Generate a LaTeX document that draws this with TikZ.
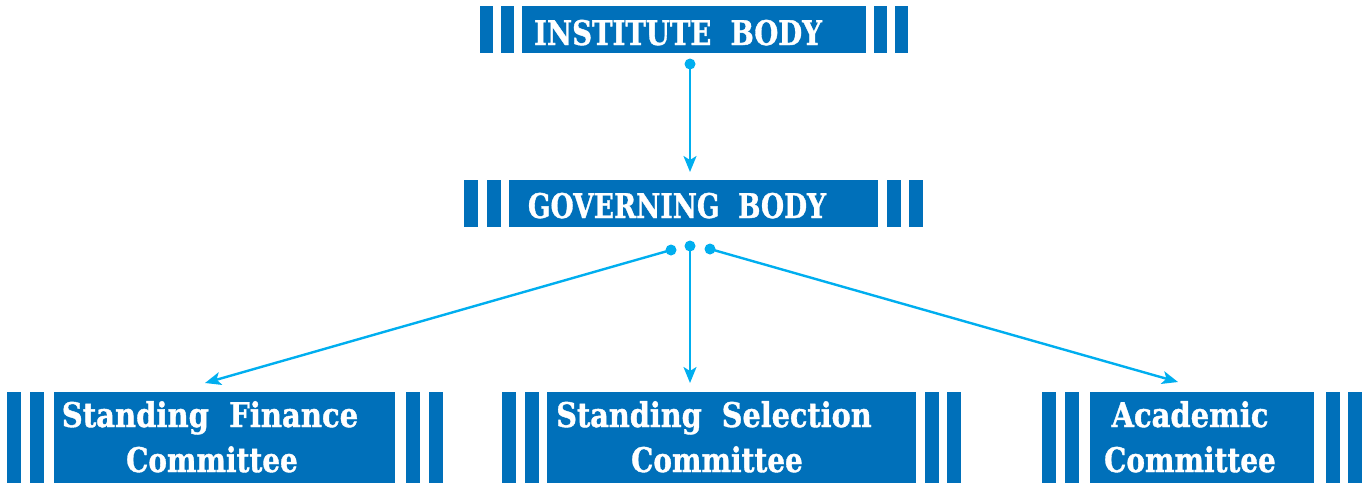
\documentclass[tikz,border=0pt]{standalone}
\usepackage{fontspec}
\setmainfont{DejaVu Serif}
\newfontfamily\heavyfont[FakeBold=1.2]{DejaVu Serif Bold}
\usetikzlibrary{arrows.meta}
\definecolor{boxblue}{RGB}{0,112,186}
\definecolor{linkblue}{RGB}{0,174,239}
\newcommand{\sqz}[2]{\scalebox{#1}[1]{#2}}
\tikzset{
  bar/.style={fill=boxblue, draw=none},
  mainbox/.style={fill=boxblue, draw=none, inner sep=0pt},
  lbl/.style={text=white, inner sep=0pt, anchor=base, font=\fontsize{34}{34}\heavyfont},
  link/.style={draw=linkblue, line width=2.4pt, -{Stealth[length=16pt,width=13pt,inset=4pt]}},
  dot/.style={circle, fill=linkblue, inner sep=0pt, minimum size=11pt},
}
\begin{document}
\begin{tikzpicture}[x=1pt,y=-1pt]
\useasboundingbox (0,0) rectangle (1367,483);
% Institute body
\fill[bar] (480,6) rectangle (493,53);
\fill[bar] (501,6) rectangle (514,53);
\node[mainbox, minimum width=344pt, minimum height=47pt] (inst) at (694,29.5) {};
\fill[bar] (874,6) rectangle (887,53);
\fill[bar] (895,6) rectangle (908,53);
\node[lbl] (instt) at (678,45) {\sqz{0.81}{INSTITUTE\ \ BODY}};
% Governing body
\fill[bar] (464,180) rectangle (478,227);
\fill[bar] (487,180) rectangle (501,227);
\node[mainbox, minimum width=369pt, minimum height=47pt] (gov) at (693.5,203.5) {};
\fill[bar] (887,180) rectangle (901,227);
\fill[bar] (909,180) rectangle (923,227);
\node[lbl] (govt) at (677,218) {\sqz{0.78}{GOVERNING\ \ BODY}};
% Standing finance
\fill[bar] (7,392) rectangle (21,483);
\fill[bar] (30,392) rectangle (44,483);
\node[mainbox, minimum width=341pt, minimum height=91pt] (fin) at (224.5,437.5) {};
\fill[bar] (406,392) rectangle (420,483);
\fill[bar] (429,392) rectangle (443,483);
\node[lbl] (fint1) at (210,427) {\sqz{0.855}{Standing\ \ Finance}};
\node[lbl] (fint2) at (212,472) {\sqz{0.82}{Committee}};
% Standing selection
\fill[bar] (502,392) rectangle (516,483);
\fill[bar] (525,392) rectangle (539,483);
\node[mainbox, minimum width=369pt, minimum height=91pt] (sel) at (731.5,437.5) {};
\fill[bar] (925,392) rectangle (939,483);
\fill[bar] (947,392) rectangle (961,483);
\node[lbl] (selt1) at (714,427) {\sqz{0.845}{Standing\ \ Selection}};
\node[lbl] (selt2) at (717,472) {\sqz{0.82}{Committee}};
% Academic
\fill[bar] (1042,392) rectangle (1056,483);
\fill[bar] (1065,392) rectangle (1079,483);
\node[mainbox, minimum width=224pt, minimum height=91pt] (aca) at (1202,437.5) {};
\fill[bar] (1326,392) rectangle (1340,483);
\fill[bar] (1348,392) rectangle (1362,483);
\node[lbl] (acat1) at (1190,427) {\sqz{0.853}{Academic}};
\node[lbl] (acat2) at (1190,472) {\sqz{0.82}{Committee}};
% connectors
\node[dot] (d0) at (690,64) {};
\node[dot] (d1) at (671,250) {};
\node[dot] (d2) at (690,246) {};
\node[dot] (d3) at (710,249) {};
\coordinate (e0) at (690,172);
\coordinate (e1) at (205,383);
\coordinate (e2) at (690,383);
\coordinate (e3) at (1178,382);
\draw[link] (d0.center) -- (e0);
\draw[link] (d1.center) -- (e1);
\draw[link] (d2.center) -- (e2);
\draw[link] (d3.center) -- (e3);
\end{tikzpicture}
\end{document}
